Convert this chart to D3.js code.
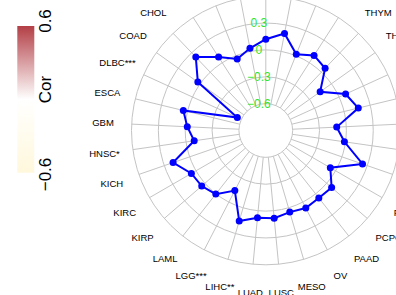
<!DOCTYPE html>
<html>
<head>
<meta charset="utf-8">
<script src="https://cdn.jsdelivr.net/npm/d3@7"></script>
<style>
	body { margin: 0; background: #fff; }
	svg { display: block; font-family: "Liberation Sans", Arial, sans-serif; }
</style>
</head>
<body>
<div id="chart"></div>
<script>
const cancers = ['ACC','BLCA','BRCA','CESC','CHOL','COAD','DLBC***','ESCA','GBM','HNSC*','KICH',
	'KIRC','KIRP','LAML','LGG***','LIHC**','LUAD','LUSC','MESO','OV','PAAD','PCPG','PRAD',
	'READ','SARC','SKCM','STAD','TGCT','THCA','THYM','UCEC','UCS','UVM'];
const corValues = [0.12, 0.035, -0.04, 0.075, 0.233, 0.032, -0.55, 0.048, -0.022, -0.092, 0.196,
	0.06, 0.047, 0.004, -0.145, 0.154, 0.079, 0.085, 0.05, 0.075, 0.058, 0.073, -0.068,
	0.243, -0.013, -0.107, 0.163, 0.08, -0.155, 0.06, 0.097, 0.016, 0.204];
const radialTicks = [-0.6, -0.3, 0, 0.3, 0.6];
const radialTickLabels = ['\u22120.6', '\u22120.3', '0', '0.3', '0.6'];
const legendLabels = ['0.6', 'Cor', '\u22120.6'];

(() => {
	const width = 396, height = 295;
	const cx = 265.8, cy = 130.5;
	const outerR = 134.3, labelR = 163;

	const gridColor  = '#c4c4c4';
	const lineColor  = '#0000ff';
	const tickColor  = '#2ee62e';

	const svg = d3.select('#chart')
		.append('svg')
		.attr('width', width)
		.attr('height', height);

	// legend colour bar
	const defs = svg.append('defs');
	const grad = defs.append('linearGradient')
		.attr('id', 'corGrad')
		.attr('x1', 0).attr('y1', 1).attr('x2', 0).attr('y2', 0);
	const fillScale = d3.scaleLinear()
		.domain([-0.6, 0, 0.6])
		.range(['#fff8dc', '#ffffff', '#b33f46']);
	d3.range(-0.6, 0.6001, 0.1).forEach(v => {
		grad.append('stop')
			.attr('offset', (v + 0.6) / 1.2)
			.attr('stop-color', fillScale(v));
	});
	svg.append('rect')
		.attr('x', 17.3).attr('y', 26)
		.attr('width', 17).attr('height', 146.7)
		.style('fill', 'url(#corGrad)');

	const legendY = [21, 89.5, 174.5];
	svg.selectAll('.leg')
		.data(legendLabels)
		.enter()
		.append('text')
		.attr('class', 'leg')
		.attr('transform', (d, i) => `translate(45,${legendY[i]}) rotate(-90)`)
		.attr('text-anchor', 'middle')
		.attr('dominant-baseline', 'central')
		.style('font-size', '17px')
		.style('fill', '#000')
		.text(d => d);

	const chart = svg.append('g')
		.attr('transform', `translate(${cx},${cy})`);

	const r = d3.scaleLinear().domain([-0.9, 0.6]).range([0, outerR]);
	const theta = d3.scaleBand().domain(cancers).range([0, 2 * Math.PI]).padding(0);
	const ang = d => -theta(d);

	// spokes
	chart.append('g')
		.selectAll('line')
		.data(cancers)
		.enter()
		.append('line')
		.attr('x1', d => Math.sin(ang(d)) * r(-0.6))
		.attr('y1', d => -Math.cos(ang(d)) * r(-0.6))
		.attr('x2', d => Math.sin(ang(d)) * r(0.6))
		.attr('y2', d => -Math.cos(ang(d)) * r(0.6))
		.style('stroke', gridColor)
		.style('stroke-width', 1);

	// circles
	chart.append('g')
		.selectAll('circle')
		.data(radialTicks)
		.enter()
		.append('circle')
		.attr('r', d => r(d))
		.style('fill', 'none')
		.style('stroke', gridColor)
		.style('stroke-width', 1);

	// category labels
	chart.append('g')
		.selectAll('text')
		.data(cancers)
		.enter()
		.append('text')
		.attr('x', d => Math.sin(ang(d)) * labelR)
		.attr('y', d => -Math.cos(ang(d)) * labelR)
		.attr('text-anchor', 'middle')
		.attr('dominant-baseline', 'central')
		.style('font-size', '9.5px')
		.style('fill', '#000')
		.text(d => d);

	// the correlation polygon
	const pts = cancers.map((c, i) => ({ c: c, v: corValues[i] }));
	const line = d3.lineRadial()
		.angle(d => ang(d.c))
		.radius(d => r(d.v))
		.curve(d3.curveLinearClosed);

	chart.append('path')
		.datum(pts)
		.attr('d', line)
		.style('fill', 'none')
		.style('stroke', lineColor)
		.style('stroke-width', 2);

	chart.append('g')
		.selectAll('circle')
		.data(pts)
		.enter()
		.append('circle')
		.attr('cx', d => Math.sin(ang(d.c)) * r(d.v))
		.attr('cy', d => -Math.cos(ang(d.c)) * r(d.v))
		.attr('r', 3.5)
		.style('fill', lineColor);

	// radial tick labels
	chart.append('g')
		.selectAll('text')
		.data(radialTicks)
		.enter()
		.append('text')
		.attr('x', -7)
		.attr('y', d => -r(d))
		.attr('text-anchor', 'middle')
		.attr('dominant-baseline', 'central')
		.style('font-size', '12px')
		.style('fill', tickColor)
		.text((d, i) => radialTickLabels[i]);
})();
</script>
</body>
</html>
